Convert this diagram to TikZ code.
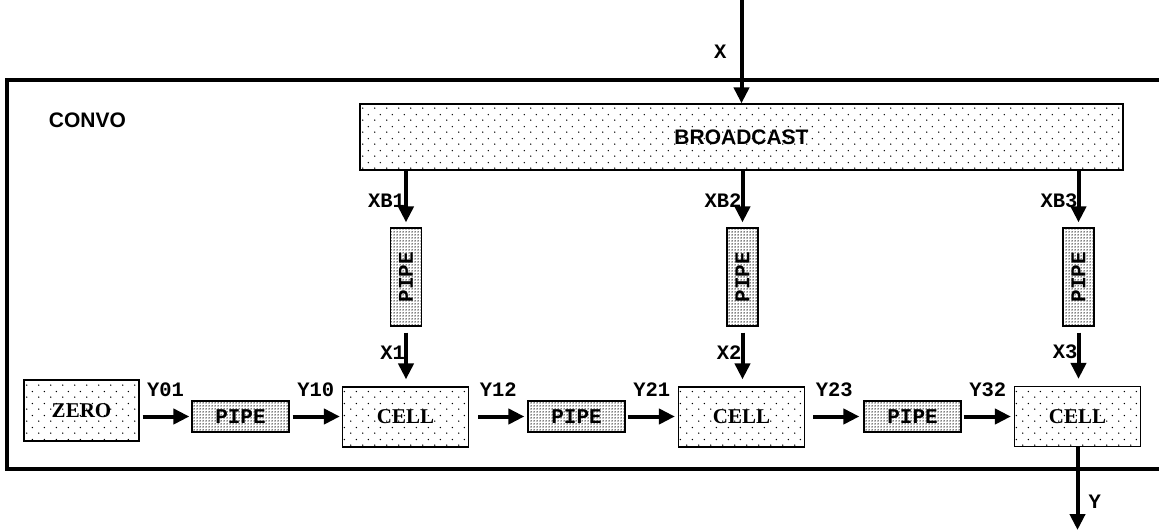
\documentclass[tikz,border=0pt]{standalone}
\usepackage{fontspec}
\setmainfont{Liberation Serif}
\setsansfont{Liberation Sans}
\setmonofont{Liberation Mono}
\usetikzlibrary{arrows.meta,patterns}

% fill textures: sparse dots for blocks, dense dots for pipes
\pgfdeclarepatternformonly{sparsedots}{\pgfpointorigin}{\pgfpoint{12pt}{12pt}}{\pgfpoint{12pt}{12pt}}{%
  \pgfpathcircle{\pgfpoint{3pt}{3pt}}{0.8pt}%
  \pgfpathcircle{\pgfpoint{9pt}{9pt}}{0.8pt}%
  \pgfusepath{fill}}
\pgfdeclarepatternformonly{densedots}{\pgfpointorigin}{\pgfpoint{2.5pt}{2.5pt}}{\pgfpoint{2.5pt}{2.5pt}}{%
  \pgfpathcircle{\pgfpoint{1.25pt}{1.25pt}}{0.85pt}%
  \pgfusepath{fill}}

\begin{document}
\begin{tikzpicture}[x=1pt,y=-1pt,
  blk/.style={draw, line width=1.2pt, pattern=sparsedots, inner sep=0pt,
              font=\fontsize{21}{21}\selectfont\bfseries},
  cellbox/.style={blk, minimum width=126pt, minimum height=60pt},
  pipebox/.style={draw, line width=1.2pt, pattern=densedots, inner sep=0pt,
              font=\fontsize{21}{21}\selectfont\ttfamily\bfseries},
  hpipe/.style={pipebox, minimum width=97pt, minimum height=31pt},
  vpipe/.style={pipebox, minimum width=31pt, minimum height=98pt},
  sig/.style={-{Triangle[length=16pt,width=15pt]}, line width=4pt},
  lbl/.style={font=\fontsize{20.5}{20.5}\selectfont\ttfamily\bfseries, inner sep=0pt}]
  \useasboundingbox (0,0) rectangle (1159,531);
  \clip (0,0) rectangle (1159,531);

  \node[draw, line width=4pt, minimum width=1168pt, minimum height=389pt] (convo) at (590.75,274.5) {};
  \node[font=\fontsize{21}{21}\selectfont\sffamily\bfseries] (title) at (87.5,120) {CONVO};

  \node[blk, font=\fontsize{21}{21}\selectfont\sffamily\bfseries,
        minimum width=763pt, minimum height=66pt] (bcast) at (741.5,137) {BROADCAST};

  \node[blk, minimum width=115pt, minimum height=61pt] (zero) at (81.5,410.5) {ZERO};
  \node[cellbox] (cell1) at (405.5,417) {CELL};
  \node[cellbox] (cell2) at (741.5,417) {CELL};
  \node[cellbox] (cell3) at (1077.5,416.5) {CELL};

  \node[hpipe] (hp1) at (240.5,416.5) {PIPE};
  \node[hpipe] (hp2) at (576.5,416.5) {PIPE};
  \node[hpipe] (hp3) at (912.5,416.5) {PIPE};

  \node[vpipe] (vp1) at (406,277) {\rotatebox{90}{PIPE}};
  \node[vpipe] (vp2) at (742.5,277) {\rotatebox{90}{PIPE}};
  \node[vpipe] (vp3) at (1078.5,277) {\rotatebox{90}{PIPE}};

  \coordinate (xin) at (741.5,0);
  \coordinate (yout) at (1077.5,531);

  % input and output
  \draw[sig] (xin) -- node[lbl, anchor=east, xshift=-13pt]{X} (bcast.north);
  \draw[sig, shorten >=1pt] (cell3.south) -- node[lbl, anchor=west, pos=0.65, xshift=9pt]{Y} (yout);

  % broadcast branches
  \draw[sig, shorten >=5pt] (vp1 |- bcast.south) -- node[lbl, anchor=east, pos=0.53, xshift=1pt]{XB1} (vp1.north);
  \draw[sig, shorten >=5pt] (vp2 |- bcast.south) -- node[lbl, anchor=east, pos=0.53, xshift=1pt]{XB2} (vp2.north);
  \draw[sig, shorten >=5pt] (vp3 |- bcast.south) -- node[lbl, anchor=east, pos=0.53, xshift=1pt]{XB3} (vp3.north);
  \draw[sig, shorten <=6pt, shorten >=7pt] (vp1.south) -- node[lbl, anchor=east, pos=0.43, xshift=1pt]{X1} (vp1.south |- cell1.north);
  \draw[sig, shorten <=6pt, shorten >=7pt] (vp2.south) -- node[lbl, anchor=east, pos=0.43, xshift=1pt]{X2} (vp2.south |- cell2.north);
  \draw[sig, shorten <=6pt, shorten >=7pt] (vp3.south) -- node[lbl, anchor=east, pos=0.43, xshift=1pt]{X3} (vp3.south |- cell3.north);

  % systolic chain
  \draw[sig, shorten <=3pt, shorten >=2pt] (zero.east |- hp1.west) -- node[lbl, anchor=south, yshift=18pt]{Y01} (hp1.west);
  \draw[sig, shorten <=3pt, shorten >=2pt] (hp1.east) -- node[lbl, anchor=south, yshift=18pt]{Y10} (cell1.west |- hp1.east);
  \draw[sig, shorten <=9pt, shorten >=3pt] (cell1.east |- hp2.west) -- node[lbl, anchor=south, yshift=18pt]{Y12} (hp2.west);
  \draw[sig, shorten <=2pt, shorten >=3pt] (hp2.east) -- node[lbl, anchor=south, yshift=18pt]{Y21} (cell2.west |- hp2.east);
  \draw[sig, shorten <=8pt, shorten >=4pt] (cell2.east |- hp3.west) -- node[lbl, anchor=south, yshift=18pt]{Y23} (hp3.west);
  \draw[sig, shorten <=2pt, shorten >=3pt] (hp3.east) -- node[lbl, anchor=south, yshift=18pt]{Y32} (cell3.west |- hp3.east);
\end{tikzpicture}
\end{document}
